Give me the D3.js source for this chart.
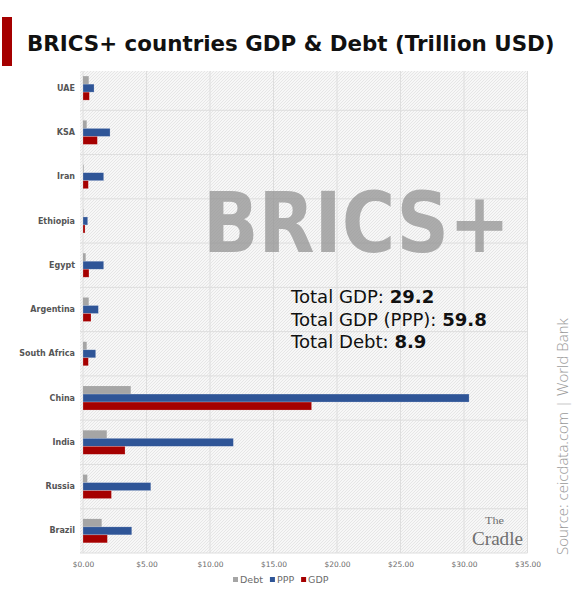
<!DOCTYPE html>
<html>
<head>
<meta charset="utf-8">
<script src="https://cdn.jsdelivr.net/npm/d3@7"></script>
<style>
  body { margin: 0; background: #fff; }
  svg { display: block; }
</style>
</head>
<body>
<script>
// values (trillion USD)
var countries = ["UAE", "KSA", "Iran", "Ethiopia", "Egypt", "Argentina", "South Africa", "China", "India", "Russia", "Brazil"];
var debt = [0.45, 0.29, 0.05, 0.03, 0.21, 0.45, 0.29, 3.76, 1.87, 0.34, 1.47];
var ppp  = [0.87, 2.13, 1.63, 0.37, 1.63, 1.21, 1.00, 30.4, 11.84, 5.34, 3.84];
var gdp  = [0.50, 1.13, 0.42, 0.16, 0.47, 0.63, 0.42, 18.0, 3.31, 2.24, 1.92];
var seriesNames = ["Debt", "PPP", "GDP"];
var xTicks = [0, 5, 10, 15, 20, 25, 30, 35];
var totals = [["Total GDP: ", "29.2"], ["Total GDP (PPP): ", "59.8"], ["Total Debt: ", "8.9"]];

var width = 572, height = 602;
var colors = {Debt: "#a5a5a5", PPP: "#2f5597", GDP: "#a50000"};
var font = "'DejaVu Sans', sans-serif";

var rows = countries.map(function(c, i) {
  return {country: c, Debt: debt[i], PPP: ppp[i], GDP: gdp[i]};
});

var svg = d3.select("body").append("svg")
    .attr("width", width)
    .attr("height", height);

var defs = svg.append("defs");
var pat = defs.append("pattern")
    .attr("id", "hatch")
    .attr("patternUnits", "userSpaceOnUse")
    .attr("width", 3).attr("height", 3);
pat.append("rect").attr("width", 3).attr("height", 3).attr("fill", "#f7f7f7");
pat.append("path").attr("d", "M0,3 L3,0").attr("stroke", "#e6e6e6").attr("stroke-width", 1);

// shrink/grow font so text fits a width
function fitWidth(sel, w) {
  var len = sel.node().getComputedTextLength();
  var fs = parseFloat(sel.attr("font-size"));
  sel.attr("font-size", fs * w / len);
  return fs * w / len;
}

// title
svg.append("rect").attr("x", 2).attr("y", 17).attr("width", 10).attr("height", 49).attr("fill", "#a50000");
var title = svg.append("text")
    .attr("x", 27).attr("y", 51)
    .attr("font-family", font).attr("font-weight", "bold")
    .attr("font-size", 22).attr("fill", "#111")
    .text("BRICS+ countries GDP & Debt (Trillion USD)");
fitWidth(title, 528);

var x = d3.scaleLinear().domain([0, 35]).range([83, 527.5]);
var y = d3.scaleBand().domain(countries).range([66, 553]).padding(0);
var y1 = d3.scaleBand().domain(seriesNames).range([0, y.bandwidth()]).paddingInner(0).paddingOuter(1.27);

// plot background
svg.append("rect")
    .attr("x", 80).attr("y", 71)
    .attr("width", x(35) - 80).attr("height", y.range()[1] - 71)
    .attr("fill", "url(#hatch)");

// grid
svg.append("g").selectAll("line.v").data(xTicks).enter().append("line")
    .attr("x1", function(d) { return x(d); }).attr("x2", function(d) { return x(d); })
    .attr("y1", 71).attr("y2", y.range()[1])
    .attr("stroke", "#dedede").attr("stroke-width", 1);
svg.append("g").selectAll("line.h").data(countries.slice(1).concat(["__end"])).enter().append("line")
    .attr("x1", 80).attr("x2", x(35))
    .attr("y1", function(d) { return d === "__end" ? y.range()[1] : y(d); })
    .attr("y2", function(d) { return d === "__end" ? y.range()[1] : y(d); })
    .attr("stroke", "#dedede").attr("stroke-width", 1);

// watermark
svg.append("text")
    .attr("x", 203).attr("y", 252)
    .attr("font-family", font).attr("font-weight", "bold")
    .attr("font-size", 84).attr("fill", "#8f8f8f").attr("fill-opacity", 0.72)
    .attr("textLength", 307).attr("lengthAdjust", "spacingAndGlyphs")
    .text("BRICS+");

// bars
var groups = svg.append("g").selectAll("g").data(rows).enter().append("g")
    .attr("transform", function(d) { return "translate(0," + y(d.country) + ")"; });
groups.selectAll("rect").data(function(d) {
    return seriesNames.map(function(s) { return {key: s, value: d[s]}; });
  }).enter().append("rect")
    .attr("x", x(0))
    .attr("y", function(d) { return y1(d.key); })
    .attr("width", function(d) { return x(d.value) - x(0); })
    .attr("height", y1.bandwidth())
    .attr("fill", function(d) { return colors[d.key]; })
    .attr("stroke", function(d) { return d.key === "Debt" ? "none" : "rgba(255,255,255,0.35)"; })
    .attr("stroke-width", 0.6);

// axes
var xAxis = svg.append("g")
    .attr("transform", "translate(0," + (y.range()[1] + 3) + ")")
    .call(d3.axisBottom(x).tickValues(xTicks).tickFormat(d3.format("$.2f")).tickSize(0));
xAxis.select(".domain").remove();
xAxis.selectAll("text").attr("font-family", font).attr("font-size", 7.5).attr("fill", "#6b6b6b").attr("dy", "1.1em");

var yAxis = svg.append("g")
    .attr("transform", "translate(75,0)")
    .call(d3.axisLeft(y).tickSize(0).tickPadding(0));
yAxis.select(".domain").remove();
yAxis.selectAll("text").attr("font-family", font).attr("font-weight", "bold")
    .attr("font-size", 8).attr("fill", "#555");

// totals box, all lines share the size that fits the widest one
var tot = svg.append("g");
var totTexts = totals.map(function(t, i) {
  var tx = tot.append("text")
      .attr("x", 291).attr("y", 303 + i * 22.5)
      .attr("font-family", font).attr("font-size", 16).attr("fill", "#111");
  tx.append("tspan").text(t[0]);
  tx.append("tspan").attr("font-weight", "bold").text(t[1]);
  return tx;
});
var totSize = fitWidth(totTexts[1], 196);
totTexts.forEach(function(tx) { tx.attr("font-size", totSize); });

// legend
var legend = svg.append("g").attr("transform", "translate(233,583)");
var lx = 0;
seriesNames.forEach(function(s) {
  legend.append("rect").attr("x", lx).attr("y", -6).attr("width", 5).attr("height", 5).attr("fill", colors[s]);
  var lt = legend.append("text").attr("x", lx + 7).attr("y", 0)
      .attr("font-family", font).attr("font-size", 9.5).attr("fill", "#6b6b6b").text(s);
  lx += 7 + lt.node().getComputedTextLength() + 7;
});

// source
var src = svg.append("text")
    .attr("transform", "translate(568,555) rotate(-90)")
    .attr("font-family", "'Open Sans', sans-serif").attr("font-weight", 300)
    .attr("font-size", 13).attr("fill", "#9a9a9a")
    .text("Source: ceicdata.com | World Bank");
fitWidth(src, 237);

// logo
svg.append("text").attr("x", 485).attr("y", 524)
    .attr("font-family", "'Liberation Serif', serif").attr("fill", "#6f6f6f")
    .attr("font-size", 11).attr("textLength", 19).attr("lengthAdjust", "spacingAndGlyphs").text("The");
svg.append("text").attr("x", 472).attr("y", 545)
    .attr("font-family", "'Liberation Serif', serif").attr("fill", "#6f6f6f")
    .attr("font-size", 19).attr("textLength", 51).attr("lengthAdjust", "spacingAndGlyphs").text("Cradle");
</script>
</body>
</html>
